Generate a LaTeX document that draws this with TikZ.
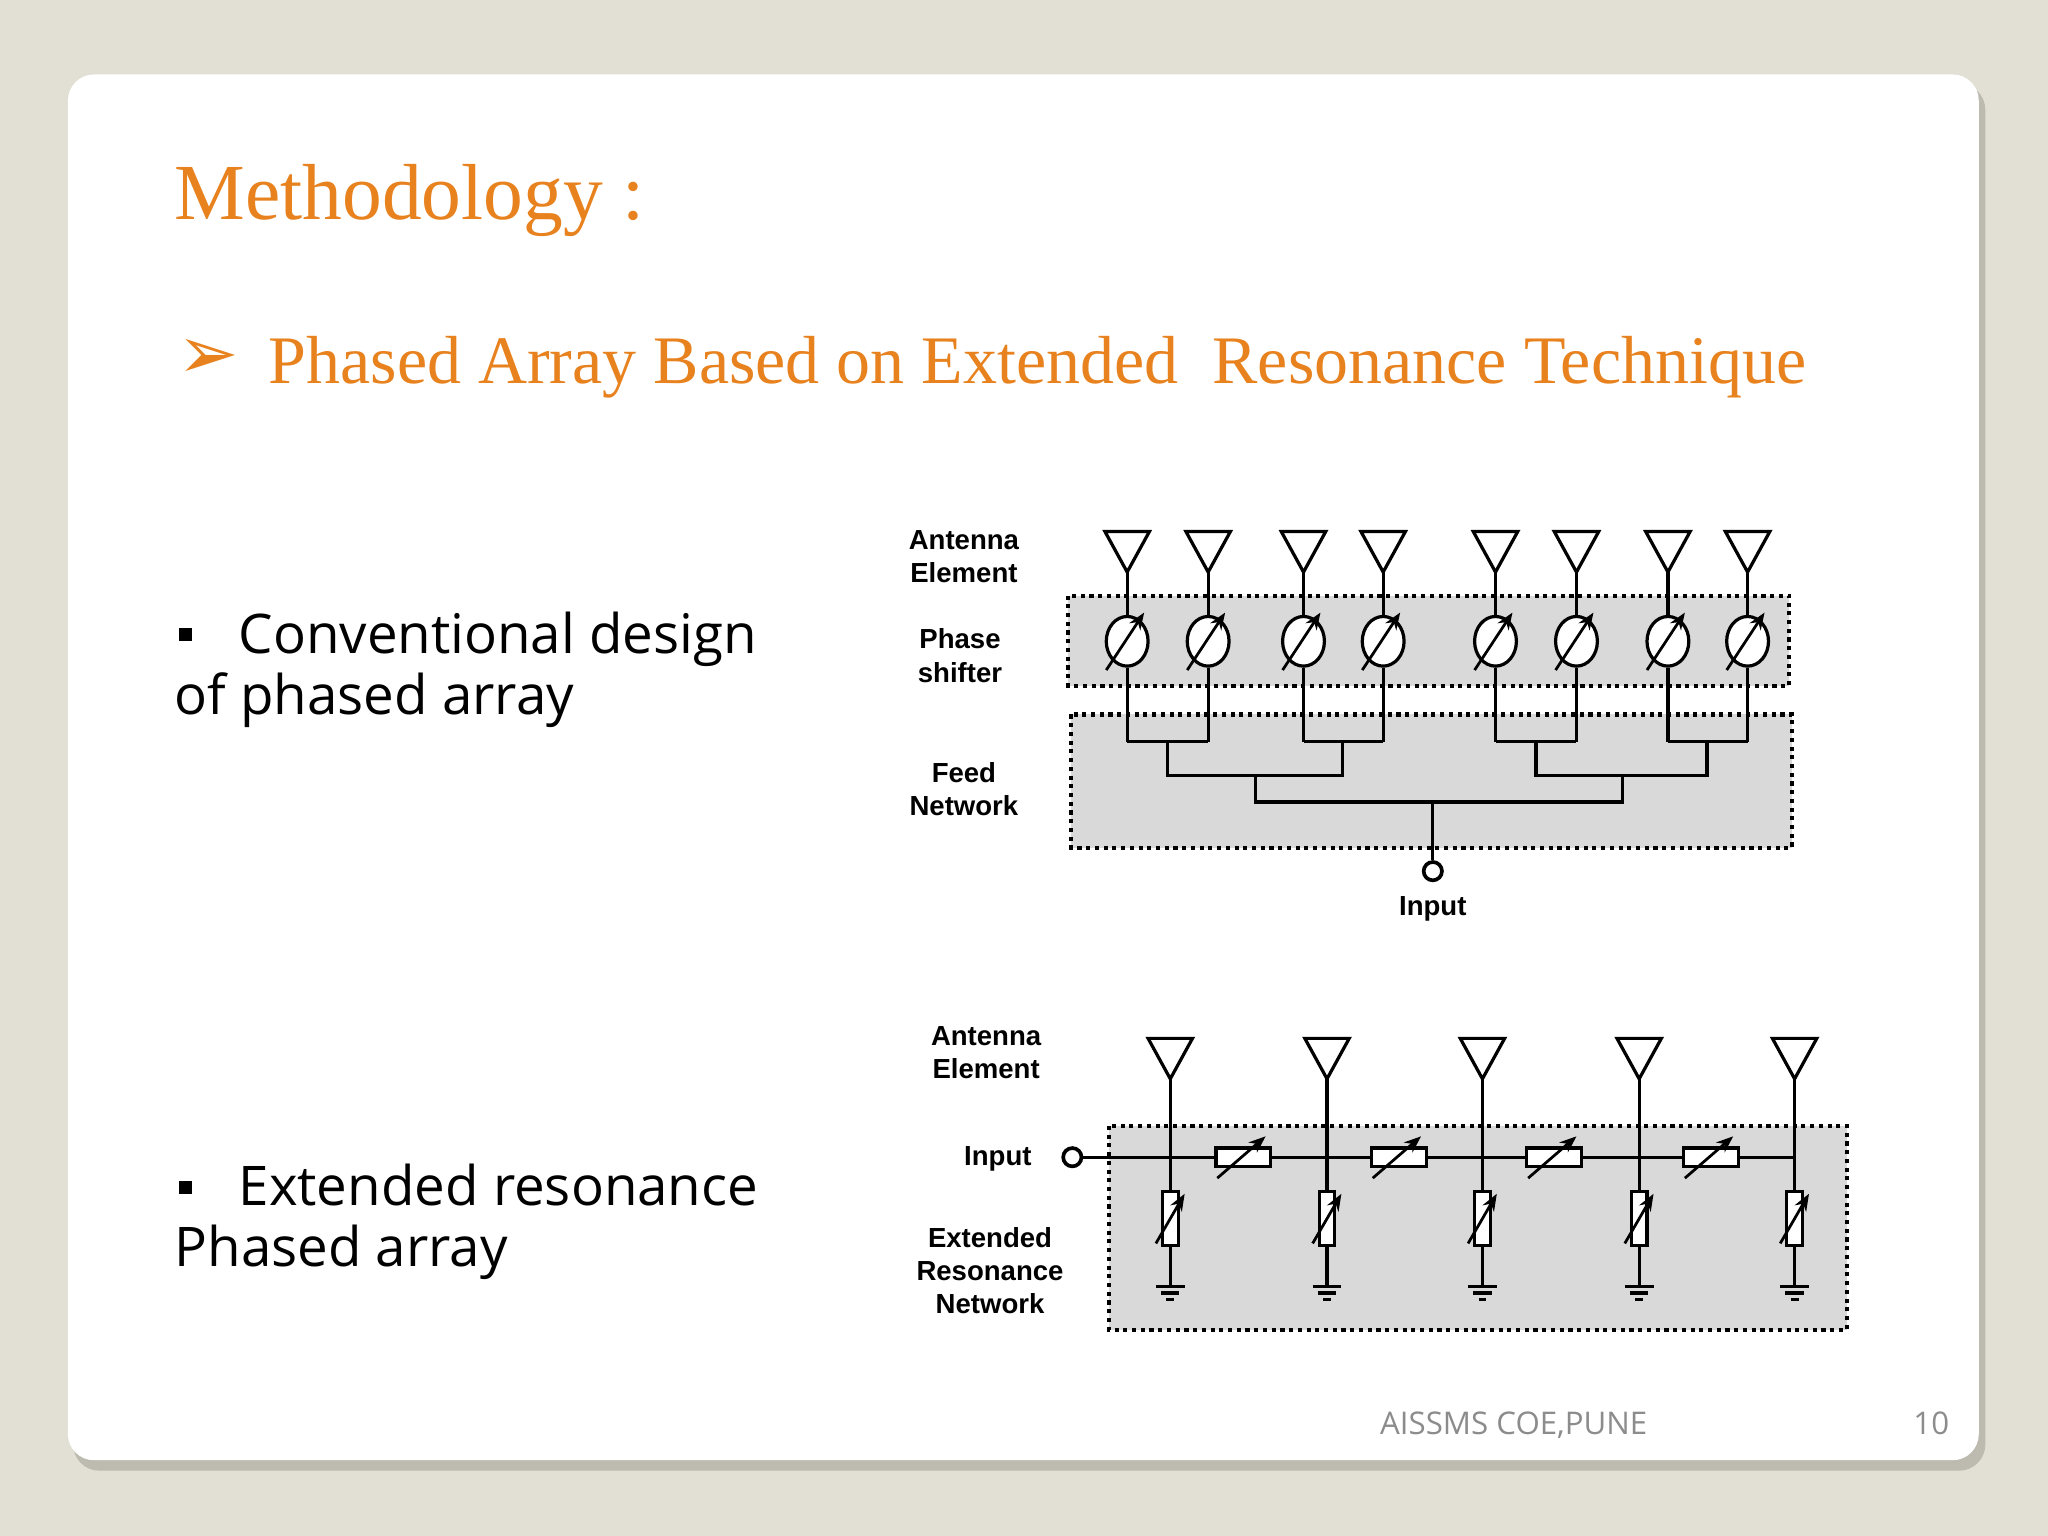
\documentclass[tikz,border=0pt]{standalone}
\usepackage{fontspec}
\setmainfont{Liberation Serif}
\setsansfont{Open Sans}
\newfontfamily\labfont{Liberation Sans}
\newfontfamily\symfont{DejaVu Sans}
\usetikzlibrary{shapes.geometric, arrows.meta, positioning}

\definecolor{slidebg}{HTML}{E2DFD4}
\definecolor{shadowc}{HTML}{BDBAB0}
\definecolor{titleor}{HTML}{E8821E}
\definecolor{boxgray}{HTML}{D9D9D9}
\definecolor{footgray}{HTML}{8C8C8C}

\begin{document}
\begin{tikzpicture}[
    x=0.01cm, y=-0.01cm,
    title/.style={anchor=base west, inner sep=0, text=titleor, font=\fontsize{17.3}{21}\selectfont},
    subtitle/.style={anchor=base west, inner sep=0, text=titleor, font=\fontsize{14.8}{18}\selectfont},
    bullet/.style={anchor=base west, inner sep=0, font=\sffamily\fontsize{11.9}{14}\selectfont},
    lab/.style={align=center, inner sep=0, font=\labfont\bfseries\fontsize{6}{7.2}\selectfont},
    region/.style={fill=boxgray, draw=black, line width=0.9pt, densely dotted},
    wire/.style={draw=black, line width=0.7pt},
    ant/.style={draw=black, line width=0.7pt, fill=white, line join=miter},
    shifter/.style={ellipse, draw, line width=0.7pt, fill=white, minimum width=0.32cm, minimum height=0.38cm, inner sep=0},
    seriesres/.style={rectangle, draw, line width=0.7pt, fill=white, minimum width=0.42cm, minimum height=0.14cm, inner sep=0},
    shuntres/.style={rectangle, draw, line width=0.7pt, fill=white, minimum width=0.12cm, minimum height=0.41cm, inner sep=0},
    tune/.style={draw, line width=0.6pt, -{Stealth[length=1.3mm, width=1mm]}},
    port/.style={circle, draw, line width=0.8pt, fill=white, minimum size=0.14cm, inner sep=0}
]

% slide background and card
\fill[slidebg] (0,0) rectangle (1568,1176);
\fill[shadowc, rounded corners=0.2cm] (56,64) rectangle (1520,1126);
\fill[white, rounded corners=0.2cm] (52,57) rectangle (1515,1118);

% titles
\node[title] (ttl) at (133,168) {Methodology :};
\node[anchor=base west, inner sep=0, text=titleor, font=\symfont\fontsize{16}{18}\selectfont] (arr) at (135,290) {➢};
\node[subtitle] (sub) at (205,294) {Phased Array Based on Extended\ \ Resonance Technique};

% bullets
\fill (137,481) rectangle (147,491);
\node[bullet] (b1) at (182,500) {Conventional design};
\node[bullet] (b1b) at (133,547) {of phased array};
\fill (137,904) rectangle (147,914);
\node[bullet] (b2) at (182,923) {Extended resonance};
\node[bullet] (b2b) at (133,970) {Phased array};

% footer
\node[anchor=base west, inner sep=0, text=footgray, font=\sffamily\fontsize{6.8}{8}\selectfont] (foot) at (1056,1098) {AISSMS COE,PUNE};
\node[anchor=base east, inner sep=0, text=footgray, font=\sffamily\fontsize{6.8}{8}\selectfont] (pg) at (1493,1098) {10};

% ---- conventional phased array ----
\draw[region] (818,456) rectangle (1370,525);
\draw[region] (820,547) rectangle (1372,649);

\foreach \x [count=\i] in {863,925,998,1059,1145,1207,1277,1338} {
    \draw[ant] (\x-17,407) -- (\x+17,407) -- (\x,438) -- cycle;
    \coordinate (ap\i) at (\x,438);
    \coordinate (f\i) at (\x,568);
    \node[shifter] (ps\i) at (\x,491) {};
    \draw[wire] (ap\i) -- (ps\i.north);
    \draw[wire] (ps\i.south) -- (f\i);
    \draw[tune] (\x-16,513) -- (\x+13,469);
}

% feed tree
\coordinate (m1) at (894,594);
\coordinate (m2) at (1028,594);
\coordinate (m3) at (1176,594);
\coordinate (m4) at (1307,594);
\coordinate (n1) at (961,614);
\coordinate (n2) at (1242,614);
\coordinate (root) at (1097,614);
\draw[wire] (f1) -- (f2) (f3) -- (f4) (f5) -- (f6) (f7) -- (f8);
\draw[wire] (894,568) -- (m1) -- (m2) -- (1028,568);
\draw[wire] (1176,568) -- (m3) -- (m4) -- (1307,568);
\draw[wire] (961,594) -- (n1) -- (n2) -- (1242,594);
\node[port] (in1) at (1097,667) {};
\draw[wire] (root) -- (in1);
\node[lab, below=0.1cm of in1] (inlab1) {Input};

\node[lab] (ae1) at (738,426) {Antenna\\Element};
\node[lab] (psl) at (735,502) {Phase\\shifter};
\node[lab] (fn) at (738,604) {Feed\\Network};

% ---- extended resonance array ----
\draw[region] (849,862) rectangle (1414,1018);
\node[port] (in2) at (821,886) {};
\coordinate (lineend) at (1374,886);
\draw[wire] (in2) -- (lineend);

\foreach \x [count=\i] in {896,1016,1135,1255,1374} {
    \draw[ant] (\x-17,795) -- (\x+17,795) -- (\x,826) -- cycle;
    \coordinate (bap\i) at (\x,826);
    \coordinate (gnd\i) at (\x,985);
    \node[shuntres] (sh\i) at (\x,933) {};
    \draw[wire] (bap\i) -- (sh\i.north);
    \draw[wire] (sh\i.south) -- (gnd\i);
    \draw[tune] (\x-11,952) -- (\x+11,914);
    \draw[wire] (\x-11,985) -- (\x+11,985);
    \draw[wire] (\x-7,990) -- (\x+7,990);
    \draw[wire] (\x-3,995) -- (\x+3,995);
}
\foreach \x [count=\i] in {952,1071,1190,1310} {
    \node[seriesres] (sr\i) at (\x,886) {};
    \draw[tune] (\x-20,902) -- (\x+17,870);
}

\node[lab] (ae2) at (755,806) {Antenna\\Element};
\node[lab] (inlab2) at (764,887) {Input};
\node[lab] (ern) at (758,973) {Extended\\Resonance\\Network};

\end{tikzpicture}
\end{document}
